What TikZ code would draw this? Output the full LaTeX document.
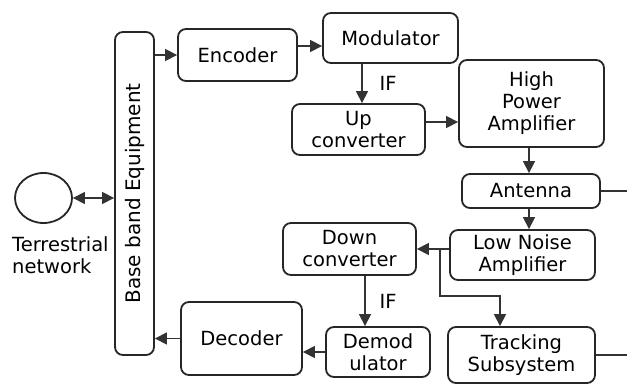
\documentclass[tikz,border=0pt]{standalone}
\usepackage{fontspec}
\setmainfont{DejaVu Sans}
\usetikzlibrary{arrows.meta,shapes.geometric}
\begin{document}
\begin{tikzpicture}[x=1pt,y=-1pt,
  blk/.style={draw=black!85,line width=1.8pt,rounded corners=8pt,align=center,inner sep=0pt,
    font=\fontsize{19.5}{22}\selectfont},
  conn/.style={draw=black!80,line width=1.3pt},
  arr/.style={conn,-{Triangle[length=12pt,width=12pt]}},
  lbl/.style={font=\fontsize{19.5}{22}\selectfont,align=left,inner sep=0pt}]
\path[use as bounding box] (0,0) rectangle (627,385);
\node[blk,minimum width=39pt,minimum height=323pt] (bb) at (134.5,193.5) {};
\node[rotate=90,font=\fontsize{20}{22}\selectfont] at (bb.center) {Base band Equipment};
\node[draw=black!85,line width=1.8pt,ellipse,minimum width=57pt,minimum height=50pt,inner sep=0pt] (tn) at (43.5,198) {};
\node[lbl,anchor=north west] (tnl) at (12,236) {Terrestrial\\network};
\node[blk,minimum width=119pt,minimum height=52pt] (enc) at (237.5,55) {Encoder};
\node[blk,minimum width=135pt,minimum height=50pt] (mod) at (390.5,38) {Modulator};
\node[blk,minimum width=133pt,minimum height=51pt] (up) at (358.5,129.5) {Up\\converter};
\node[blk,minimum width=145pt,minimum height=87pt] (hpa) at (531.5,103.5) {High\\Power\\Amplifier};
\node[blk,minimum width=138pt,minimum height=34pt] (ant) at (531,191) {Antenna};
\node[blk,minimum width=145pt,minimum height=50pt] (lna) at (522.5,255) {Low Noise\\Amplifier};
\node[blk,minimum width=133pt,minimum height=52pt] (down) at (349.5,249) {Down\\converter};
\node[blk,minimum width=104pt,minimum height=50pt] (demod) at (378,352) {Demod\\ulator};
\node[blk,minimum width=147pt,minimum height=56pt] (track) at (521.5,355) {Tracking\\Subsystem};
\node[blk,minimum width=121pt,minimum height=73pt] (dec) at (241.5,338.5) {Decoder};
\coordinate (antout) at (627,191);
\coordinate (trackout) at (627,355);
\coordinate (br) at (440,249);
% connectors
\draw[conn,{Triangle[length=12pt,width=12pt]}-{Triangle[length=12pt,width=12pt]}] (tn.east) -- (bb.west |- tn.east);
\draw[arr] (bb.east |- enc.west) -- (enc.west);
\draw[arr] (enc.east |- 0,46) -- (mod.west |- 0,46);
\draw[arr] (mod.south -| 362,0) -- (up.north -| 362,0) node[lbl,midway,right=17pt] {IF};
\draw[arr] (up.east |- 0,122) -- (hpa.west |- 0,122);
\draw[arr] (hpa.south -| 529,0) -- (ant.north -| 529,0);
\draw[arr] (ant.south -| 529,0) -- (lna.north -| 529,0);
\draw[conn] (ant.east) -- (antout);
\draw[arr] (lna.west |- br) -- (down.east |- br);
\draw[arr] (br) -- (440,296) -- (500,296) -- (track.north -| 500,0);
\draw[arr] (down.south -| 365,0) -- (demod.north -| 365,0) node[lbl,midway,right=14pt] {IF};
\draw[arr] (demod.west) -- (dec.east |- demod.west);
\draw[arr] (dec.west) -- (bb.east |- dec.west);
\draw[conn] (track.east) -- (trackout);
\end{tikzpicture}
\end{document}
